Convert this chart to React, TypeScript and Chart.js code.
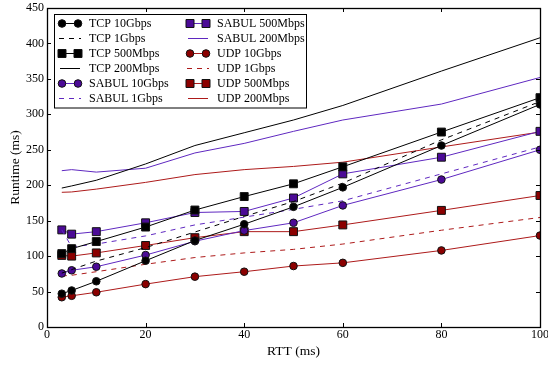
import React, { useEffect, useRef } from 'react';
import { Chart, registerables } from 'chart.js';

Chart.register(...registerables);

const rtt = [3, 5, 10, 20, 30, 40, 50, 60, 80, 100];
const xTicks = [0, 20, 40, 60, 80, 100];
const yTicks = [0, 50, 100, 150, 200, 250, 300, 350, 400, 450];

const tcp10G = [47, 51.5, 64.5, 93.5, 122, 145, 169.5, 197, 256, 314];
const tcp1G = [76, 81, 93, 112, 134, 156, 177, 203, 264, 318];
const tcp500M = [103.5, 110.5, 120.5, 141, 165, 184, 202, 226, 275, 323.5];
const tcp200M = [196, 199, 207, 230, 256, 274, 292, 312.5, 361, 408];
const sabul10G = [75.5, 80, 85, 101.5, 121, 136, 147, 171.5, 208, 250];
const sabul1G = [137, 113, 117, 128.5, 144, 155, 166, 178, 216, 254];
const sabul500M = [137, 131, 134.5, 147, 161.5, 163, 182, 216, 239.5, 276];
const sabul200M = [220.5, 222, 218.5, 224, 245.5, 259, 276, 292, 314.5, 352];
const udp10G = [42, 44, 49, 60.5, 71, 78, 86, 90.5, 108, 129];
const udp1G = [72, 73, 78, 88.5, 98, 104.5, 109.5, 117, 136.5, 154.5];
const udp500M = [101, 100, 104.5, 115, 126, 134.5, 134.5, 144, 164.5, 185.5];
const udp200M = [190, 190.5, 194.5, 204, 215, 222, 226.5, 232.5, 254, 275];

const FONT = "'Liberation Serif', 'DejaVu Serif', serif";

const BLACK = '#000000';
const PURPLE_M = '#4b0a96';
const PURPLE_L = '#5f28c0';
const RED_M = '#8b0000';
const RED_L = '#ad1a1a';

type Kind = 'circle' | 'rect' | 'dash' | 'solid';

function mk(label: string, data: number[], marker: string, line: string, kind: Kind) {
  const hasPt = kind === 'circle' || kind === 'rect';
  return {
    label,
    data: rtt.map((x, i) => ({ x, y: data[i] })),
    borderColor: line,
    backgroundColor: marker,
    borderWidth: 1,
    borderDash: kind === 'dash' ? [5, 5] : [],
    pointStyle: kind === 'rect' ? 'rect' : 'circle',
    pointRadius: hasPt ? (kind === 'rect' ? 5.6 : 3.8) : 0,
    pointHoverRadius: 0,
    pointBackgroundColor: marker,
    pointBorderColor: '#111',
    pointBorderWidth: 1,
    tension: 0,
    fill: false,
    kind,
  };
}

const legendPlugin = {
  id: 'customLegend',
  afterDraw(chart: any) {
    const ctx = chart.ctx as CanvasRenderingContext2D;
    const ds = chart.data.datasets as any[];
    ctx.save();
    const bx = 54.5, by = 14.5, bw = 252, bh = 93.5;
    ctx.fillStyle = '#ffffff';
    ctx.fillRect(bx, by, bw, bh);
    ctx.strokeStyle = '#000';
    ctx.lineWidth = 1;
    ctx.strokeRect(bx, by, bw, bh);
    const rowY = [23.5, 38.5, 53.5, 68.5, 83.5, 98.5];
    const cols = [{ x0: 62, x1: 78, tx: 89 }, { x0: 190, x1: 206, tx: 217 }];
    ctx.font = `12px ${FONT}`;
    ctx.textBaseline = 'middle';
    ctx.textAlign = 'left';
    ds.forEach((d, i) => {
      const c = cols[Math.floor(i / 6)];
      const y = rowY[i % 6];
      ctx.save();
      ctx.strokeStyle = d.borderColor;
      ctx.lineWidth = 1;
      ctx.setLineDash(d.kind === 'dash' ? [5, 5] : []);
      ctx.beginPath();
      if (d.kind === 'dash') {
        ctx.moveTo(c.x0 - 3, y);
        ctx.lineTo(c.x1 + 3, y);
      } else {
        ctx.moveTo(c.x0 - 2, y);
        ctx.lineTo(c.x1 + 2, y);
      }
      ctx.stroke();
      ctx.setLineDash([]);
      if (d.kind === 'circle' || d.kind === 'rect') {
        for (const px of [c.x0, c.x1]) {
          ctx.fillStyle = d.pointBackgroundColor;
          ctx.strokeStyle = d.pointBorderColor;
          ctx.beginPath();
          if (d.kind === 'circle') {
            ctx.arc(px, y, 3.8, 0, Math.PI * 2);
          } else {
            ctx.rect(px - 4, y - 4, 8, 8);
          }
          ctx.fill();
          ctx.stroke();
        }
      }
      ctx.restore();
      ctx.fillStyle = '#000';
      ctx.fillText(d.label, c.tx, y + 0.5);
    });
    ctx.restore();
  },
};

const framePlugin = {
  id: 'frameTicks',
  afterDatasetsDraw(chart: any) {
    const ctx = chart.ctx as CanvasRenderingContext2D;
    const { left, right, top, bottom } = chart.chartArea;
    const xs = chart.scales.x;
    const ys = chart.scales.y;
    ctx.save();
    ctx.strokeStyle = '#000';
    ctx.lineWidth = 1;
    ctx.beginPath();
    for (const v of xTicks) {
      const px = Math.round(xs.getPixelForValue(v)) + 0.5;
      ctx.moveTo(px, bottom);
      ctx.lineTo(px, bottom - 4);
      ctx.moveTo(px, top);
      ctx.lineTo(px, top + 4);
    }
    for (const v of yTicks) {
      const py = Math.round(ys.getPixelForValue(v)) + 0.5;
      ctx.moveTo(left, py);
      ctx.lineTo(left + 4, py);
      ctx.moveTo(right, py);
      ctx.lineTo(right - 4, py);
    }
    ctx.stroke();
    ctx.lineWidth = 1.3;
    ctx.strokeRect(Math.round(left) + 0.5, Math.round(top) + 0.5, Math.round(right - left), Math.round(bottom - top));
    ctx.restore();
  },
};

export default function App() {
  const ref = useRef<HTMLCanvasElement>(null);
  useEffect(() => {
    if (!ref.current) return;
    const datasets = [
      mk('TCP 10Gbps', tcp10G, BLACK, BLACK, 'circle'),
      mk('TCP 1Gbps', tcp1G, BLACK, BLACK, 'dash'),
      mk('TCP 500Mbps', tcp500M, BLACK, BLACK, 'rect'),
      mk('TCP 200Mbps', tcp200M, BLACK, BLACK, 'solid'),
      mk('SABUL 10Gbps', sabul10G, PURPLE_M, PURPLE_L, 'circle'),
      mk('SABUL 1Gbps', sabul1G, PURPLE_M, PURPLE_L, 'dash'),
      mk('SABUL 500Mbps', sabul500M, PURPLE_M, PURPLE_L, 'rect'),
      mk('SABUL 200Mbps', sabul200M, PURPLE_M, PURPLE_L, 'solid'),
      mk('UDP 10Gbps', udp10G, RED_M, RED_L, 'circle'),
      mk('UDP 1Gbps', udp1G, RED_M, RED_L, 'dash'),
      mk('UDP 500Mbps', udp500M, RED_M, RED_L, 'rect'),
      mk('UDP 200Mbps', udp200M, RED_M, RED_L, 'solid'),
    ];
    const chart = new Chart(ref.current, {
      type: 'line',
      data: { datasets: datasets as any },
      options: {
        animation: false,
        responsive: false,
        devicePixelRatio: 1,
        layout: { padding: { top: 8, right: 8, left: 0, bottom: 0 } },
        plugins: { legend: { display: false }, tooltip: { enabled: false } },
        scales: {
          x: {
            type: 'linear',
            min: 0,
            max: 100,
            grid: { display: false, drawTicks: false, tickLength: 0 },
            border: { display: false },
            afterBuildTicks: (s: any) => {
              s.ticks = xTicks.map((v) => ({ value: v }));
            },
            ticks: { color: '#000', font: { family: FONT, size: 12 }, padding: 1, maxRotation: 0, autoSkip: false },
            title: { display: true, text: 'RTT (ms)', color: '#000', font: { family: FONT, size: 13.5 }, padding: { top: 0, bottom: 5 } },
            afterFit: (s: any) => {
              s.height = 38;
              s.paddingLeft = 0;
              s.paddingRight = 0;
            },
          },
          y: {
            type: 'linear',
            min: 0,
            max: 450,
            grid: { display: false, drawTicks: false, tickLength: 0 },
            border: { display: false },
            afterBuildTicks: (s: any) => {
              s.ticks = yTicks.map((v) => ({ value: v }));
            },
            ticks: { color: '#000', font: { family: FONT, size: 12 }, padding: 3, autoSkip: false },
            title: { display: true, text: 'Runtime (ms)', color: '#000', font: { family: FONT, size: 13.5 }, padding: { top: 7, bottom: 0 } },
            afterFit: (s: any) => {
              s.width = 47;
              s.paddingTop = 0;
              s.paddingBottom = 0;
            },
          },
        },
      },
      plugins: [framePlugin, legendPlugin],
    });
    return () => chart.destroy();
  }, []);
  return (
    <div style={{ position: 'fixed', left: 0, top: 0, width: 548, height: 365, background: '#fff' }}>
      <canvas ref={ref} width={548} height={365} style={{ width: 548, height: 365, display: 'block' }} />
    </div>
  );
}
